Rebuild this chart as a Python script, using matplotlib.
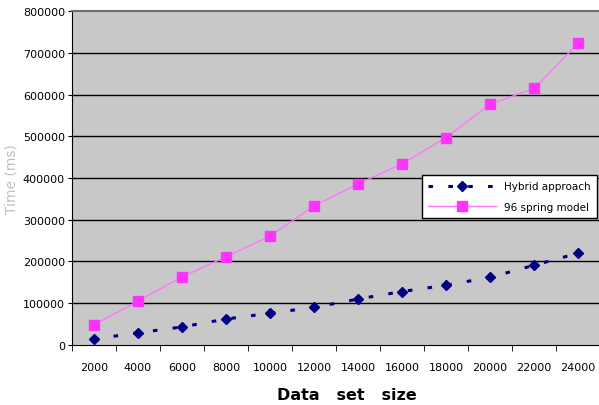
import matplotlib.pyplot as plt
from matplotlib.ticker import FixedLocator

sizes = [2000, 4000, 6000, 8000, 10000, 12000, 14000, 16000, 18000, 20000, 22000, 24000]
hybrid = [14000, 29000, 43000, 62000, 76000, 90000, 110000, 128000, 143000, 162000, 191000, 220000]
spring = [48000, 105000, 163000, 211000, 261000, 333000, 386000, 434000, 497000, 577000, 615000, 723000]
y_ticks = [0, 100000, 200000, 300000, 400000, 500000, 600000, 700000, 800000]

fig = plt.figure(figsize=(5.99, 4.06), dpi=100)
ax = fig.add_axes([0.120, 0.148, 0.882, 0.822])
ax.set_facecolor('#c8c8c8')

x = list(range(len(sizes)))
ax.plot(x, hybrid, color='#000080', linestyle=(0, (1.5, 5)), linewidth=2.2,
        marker='D', markersize=5, label='Hybrid approach', zorder=3)
ax.plot(x, spring, color='#ff77ff', linestyle='-', linewidth=1,
        marker='s', markersize=6.5, markerfacecolor='#ff33ff', markeredgecolor='#ff33ff',
        label='96 spring model', zorder=3)

ax.set_xlim(-0.5, len(sizes) - 0.5)
ax.set_ylim(0, 800000)
ax.set_yticks(y_ticks)
ax.set_yticklabels([str(v) for v in y_ticks], fontsize=8)
ax.set_xticks(x)
ax.set_xticklabels([str(s) for s in sizes], fontsize=8)
ax.xaxis.set_minor_locator(FixedLocator([i - 0.5 for i in range(len(sizes) + 1)]))
ax.tick_params(axis='x', which='major', length=0, pad=12)
ax.tick_params(axis='x', which='minor', length=4, direction='out')
ax.tick_params(axis='y', length=3, direction='out', pad=2)

for v in y_ticks[1:-1]:
    ax.axhline(v, color='black', linewidth=1, zorder=1)

ax.spines['top'].set_color('#707070')
ax.spines['top'].set_linewidth(1.5)
ax.spines['right'].set_visible(False)
ax.spines['left'].set_color('black')
ax.spines['bottom'].set_color('black')

ax.set_xlabel('Data   set   size', fontsize=11.5, fontweight='bold', labelpad=10)
ax.set_ylabel('Time (ms)', fontsize=10, color='#c0c0c0', labelpad=3)
ax.xaxis.set_label_coords(0.52, -0.125)

leg = ax.legend(loc='upper left', bbox_to_anchor=(0.652, 0.525), fontsize=7.5,
                frameon=True, fancybox=False, edgecolor='black', framealpha=1,
                handlelength=6.5, borderpad=0.6, labelspacing=1.0)
leg.get_frame().set_linewidth(1)

fig.savefig('out.png', dpi=100)
